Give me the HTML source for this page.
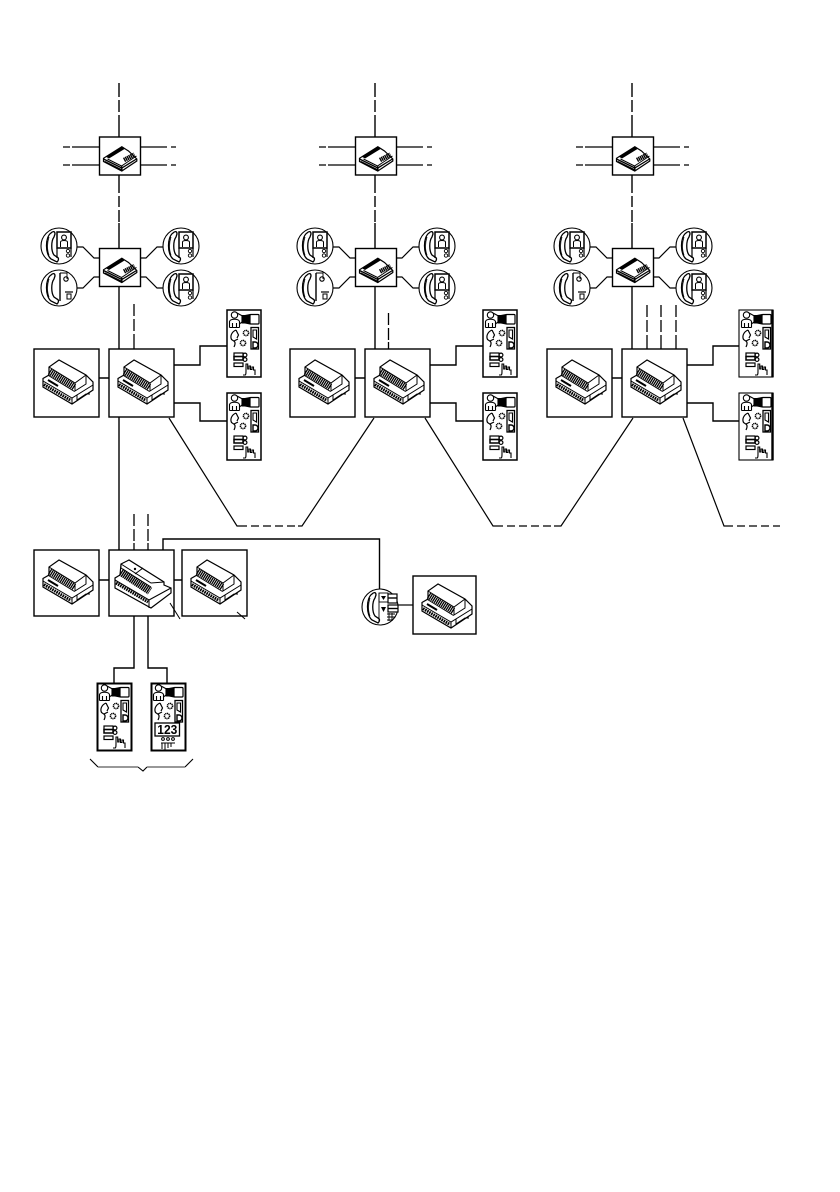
<!DOCTYPE html>
<html><head><meta charset="utf-8"><style>
html,body{margin:0;padding:0;background:#fff}
svg{display:block}
</style></head><body>
<svg xmlns="http://www.w3.org/2000/svg" width="840" height="1192" viewBox="0 0 840 1192">
<defs>
<g id="mod">
 <path d="M25 11 L15 18 V26 L9 29.500 V38 L38 55 L59 41 V33 L52 26 Z" fill="#fff" stroke="#000" stroke-width="1.200"/>
 <path d="M15 18 L41 34 L52 26 M41 34 V42 L52 35 V26" fill="none" stroke="#000" stroke-width="1"/>
 <path d="M15.500 22.500 L40.500 38" stroke="#000" stroke-width="6.500" stroke-dasharray="1.300 .7" fill="none"/>
 <path d="M9 32 L38 49 L59 36 M14.500 26.500 L40.500 42.500" fill="none" stroke="#000" stroke-width="1"/>
 <path d="M10 35.500 L37 51.500" stroke="#000" stroke-width="3" stroke-dasharray="1.600 .8" fill="none"/>
 <path d="M38 49 V55 M43 46 V51 L52 45 H56" fill="none" stroke="#000" stroke-width="1"/>
 <path d="M14 31 L24 37" stroke="#000" stroke-width="2" fill="none"/>
</g>
<g id="box">
 <rect x="0" y="0" width="65" height="68" fill="#fff" stroke="#000" stroke-width="1.400"/>
 <use href="#mod"/>
</g>
<g id="small">
 <rect x="0" y="0" width="41" height="38" fill="#fff" stroke="#000" stroke-width="1.400"/>
 <path d="M22.300 9.700 L4 21.300 V24.500 L22.300 34 L37.300 24 V22 L29 14 Z" fill="#fff" stroke="#000" stroke-width="1.200"/>
 <path d="M6 19.500 L22.300 10 L25 12 L9.500 21.500 Z" fill="#000"/>
 <path d="M8 22 L22 29 L37 19" fill="none" stroke="#000" stroke-width="1"/>
 <path d="M24.500 23 L35 17.500" stroke="#000" stroke-width="4.500" stroke-dasharray="1.400 .5" fill="none"/>
 <path d="M4 22 L22.300 31 L37 22" fill="none" stroke="#000" stroke-width="1.300"/>
 <path d="M5 24.500 L22.300 33 V29.500" fill="none" stroke="#000" stroke-width="1.500"/>
</g>
<g id="handset" fill="none" stroke="#000" stroke-width="1.200">
 <circle r="18" fill="#fff" stroke-width="1.100"/>
 <path d="M-8 -13 C-14 -9 -14 8 -8 13 L-2 16 C0 14 0 12 -2 11 L-5 9 C-8 5 -8 -5 -5 -9 L-4 -12 C-4 -15 -6 -15 -8 -13Z" stroke-width="1.300"/>
 <path d="M-10 -9 C-12 -3 -12 4 -10 9" stroke-width=".8"/>
</g>
<g id="phoneV">
 <use href="#handset"/>
 <rect x="-2" y="-14" width="14" height="16" fill="#fff" stroke="#000" stroke-width="1.500"/>
 <path d="M-2 2 V12 M12 2 V11" stroke="#000" stroke-width="1.200"/>
 <path d="M1.500 1 V-4 C2 -6 8 -6 8.500 -4 V1" fill="none" stroke="#000" stroke-width="1"/>
 <circle cx="5" cy="-8.500" r="2.400" fill="none" stroke="#000" stroke-width="1.100"/>
 <circle cx="9" cy="5" r="1.700" fill="none" stroke="#000" stroke-width=".9"/>
 <circle cx="9" cy="9.500" r="1.700" fill="none" stroke="#000" stroke-width=".9"/>
</g>
<g id="phoneA">
 <use href="#handset"/>
 <path d="M1 -15 V13" stroke="#000" stroke-width="1.400"/>
 <path d="M1 -15 H8 V-9" fill="none" stroke="#000" stroke-width=".9"/>
 <circle cx="7" cy="-9" r="2.200" fill="none" stroke="#000" stroke-width="1.100"/>
 <path d="M6 4 H14" stroke="#000" stroke-width="1.200"/>
 <rect x="8" y="6" width="4" height="5" fill="none" stroke="#000" stroke-width="1"/>
</g>
<g id="phoneK">
 <use href="#handset"/>
 <rect x="-1" y="-14" width="9" height="9" fill="#fff" stroke="#000" stroke-width=".9"/>
 <path d="M1 -11 H6 L3.500 -7 Z M1 0 H6 L3.500 5 Z" fill="#000"/>
 <rect x="8" y="-13" width="9" height="9" fill="#fff" stroke="#000" stroke-width="1.200"/>
 <path d="M8 -9 H17" stroke="#000" stroke-width="1.400"/>
 <rect x="8" y="-2" width="10" height="7" fill="#fff" stroke="#000" stroke-width="1.200"/>
 <path d="M8 1.500 H18" stroke="#000" stroke-width="1.400"/>
 <path d="M-1 -14 V15" stroke="#000" stroke-width=".9"/>
 <path d="M7 7 H15 M7 10 H15 M7 13 H13 M9 6 V14 M12 6 V14" stroke="#000" stroke-width=".9"/>
</g>
<g id="pTop" fill="none" stroke="#000" stroke-width="1.100">
 <circle cx="7.500" cy="5" r="3.200"/>
 <path d="M2.500 17.500 V11.500 C3.500 8.500 11.500 8.500 12.500 11.500 V17.500 M2.500 17.500 H12.500 M5.500 13 V17.500 M9.500 13 V17.500"/>
 <path d="M10 3 L15.500 6 M12.500 14 L15.500 11.500"/>
 <path d="M15 5.500 H18 L23 4.500 V14 L18 13 H15 Z" fill="#000"/>
 <rect x="23" y="4.500" width="9" height="9.500" rx="1" fill="#fff" stroke-width="1.200"/>
 <path d="M9 20 C4.500 22 3 26 4.500 29.500 L7.500 31.500 C8.500 33 8 35 7 37 M9 20 L11.500 25 L10 28 M7 31 L11 29" stroke-width="1.200"/>
 <circle cx="19" cy="23" r="2.600" stroke-dasharray="1.200 .5" stroke-width="1.500"/>
 <circle cx="16" cy="33" r="2.600" stroke-dasharray="1.200 .5" stroke-width="1.500"/>
 <rect x="24" y="17.500" width="7.500" height="21.500" stroke-width="1.300"/>
 <path d="M26 20 V27 L29.500 29 V20 Z"/>
 <path d="M26 32 H28 A3 3 0 0 1 28 38 H26 Z" stroke-width="1.400"/>
</g>
<g id="pBtn" fill="none" stroke="#000" stroke-width="1.200">
 <rect x="7" y="43" width="9" height="3.500"/>
 <rect x="7" y="46.500" width="9" height="3.500" stroke-width="1.500"/>
 <rect x="7" y="53" width="9" height="3.500"/>
 <circle cx="18" cy="45" r="1.900"/>
 <circle cx="18" cy="49.500" r="1.900"/>
 <path d="M16 65 H18 C19 65 19 63 19 60 V54 H20.700 V59 H22 V56 H23.500 V59.500 H25 V57 H26.500 V60 H28 V65" stroke-width="1.100"/>
</g>
<g id="panel">
 <rect x="0" y="0" width="34" height="67" fill="#fff" stroke="#000" stroke-width="1.500"/>
 <use href="#pTop"/><use href="#pBtn"/>
</g>
<g id="panelR">
 <rect x="0" y="0" width="34" height="67" fill="#fff" stroke="#000" stroke-width="1.100"/>
 <path d="M33.500 0 V67" stroke="#000" stroke-width="2.400"/>
 <use href="#pTop"/><use href="#pBtn"/>
</g>
<g id="upper">
 <path d="M119 83 V97 M119 100 V112 M119 115 V137 M119 175 V193 M119 196 V207 M119 210 V222 M119 223 V248" fill="none" stroke="#000" stroke-width="1.400"/>
 <path d="M63 147 H70 M72 147 H99 M63 165 H70 M72 165 H99 M141 147 H167 M171 147 H176 M141 165 H167 M171 165 H176" fill="none" stroke="#000" stroke-width="1.300"/>
 <use href="#small" x="99.500" y="137"/>
 <use href="#small" x="99.500" y="248.500"/>
 <path d="M77 247 H83 L94 258 H99 M77 288 H83 L94 277 H99 M141 258 H146 L157 247 H163 M141 277 H146 L157 288 H163" fill="none" stroke="#000" stroke-width="1.200"/>
 <use href="#phoneV" x="59" y="246"/>
 <use href="#phoneA" x="59" y="288"/>
 <use href="#phoneV" x="181" y="246"/>
 <use href="#phoneV" x="181" y="288"/>
 <path d="M119 287 V349" stroke="#000" stroke-width="1.400" fill="none"/>
 <path d="M99 378 H109 M174 365 H200 V346 H227 M174 403 H200 V421 H227" fill="none" stroke="#000" stroke-width="1.400"/>
 <use href="#box" x="34" y="349"/>
 <use href="#box" x="109" y="349"/>
</g>
</defs>

<use href="#upper"/>
<path d="M134 304 V316 M134 319 V331 M134 334 V349" stroke="#000" stroke-width="1.300" fill="none"/>
<use href="#panel" x="227" y="310"/>
<use href="#panel" x="227" y="393"/>

<use href="#upper" x="256"/>
<path d="M388.500 313 V325 M388.500 328 V340 M388.500 342 V349" stroke="#000" stroke-width="1.300" fill="none"/>
<use href="#panel" x="483" y="310"/>
<use href="#panel" x="483" y="393"/>

<use href="#upper" x="513"/>
<path d="M647 305 V317 M647 320 V332 M647 335 V349 M661 305 V317 M661 320 V332 M661 335 V349 M676 305 V317 M676 320 V332 M676 335 V349" stroke="#000" stroke-width="1.300" fill="none"/>
<use href="#panelR" x="739" y="310"/>
<use href="#panelR" x="739" y="393"/>

<path d="M119 417 V550" stroke="#000" stroke-width="1.400" fill="none"/>
<path d="M134 514 V526 M134 529 V541 M134 543 V550 M148 514 V526 M148 529 V541 M148 543 V550" stroke="#000" stroke-width="1.300" fill="none"/>
<g fill="none" stroke="#000" stroke-width="1.200">
 <path d="M169 418 L237 526 H247"/>
 <path d="M251 526 H259 M263 526 H271 M275 526 H283 M287 526 H295"/>
 <path d="M298 526 H302 L374 418"/>
 <path d="M425 418 L493 526 H503"/>
 <path d="M507 526 H515 M519 526 H527 M531 526 H539 M543 526 H551"/>
 <path d="M554 526 H561 L633 418"/>
 <path d="M683 418 L724 526 H733"/>
 <path d="M737 526 H745 M749 526 H757 M761 526 H769 M773 526 H780"/>
</g>

<path d="M99 580 H109 M174 580 H182 M163 550 V539 H379.500 V590" fill="none" stroke="#000" stroke-width="1.400"/>
<rect x="109" y="550" width="65" height="66" fill="#fff" stroke="#000" stroke-width="1.400"/>
<g transform="translate(109 550)">
 <path d="M12 14 L20 10 L55 32 V35 L62 38 V43 L42 58 L6 38 V28 L11 25 Z" fill="#fff" stroke="#000" stroke-width="1.200"/>
 <path d="M12 14 L42 33 L55 32 M12 14 V18 L42 37" fill="none" stroke="#000" stroke-width="1"/>
 <path d="M12 22 L41 41" stroke="#000" stroke-width="8" stroke-dasharray="1.400 .6" fill="none"/>
 <path d="M6 30 L40 50 L62 38" fill="none" stroke="#000" stroke-width="1.100"/>
 <path d="M7 33 L39 52" stroke="#000" stroke-width="3" stroke-dasharray="1.600 .8" fill="none"/>
 <path d="M40 50 V58 M34 18 L26 24" fill="none" stroke="#000" stroke-width="1"/>
 <circle cx="26" cy="19" r="1.200" fill="#000"/>
</g>
<rect x="182" y="550" width="65" height="66" fill="#fff" stroke="#000" stroke-width="1.400"/>
<use href="#mod" x="182" y="549"/>
<rect x="34" y="550" width="65" height="66" fill="#fff" stroke="#000" stroke-width="1.400"/>
<use href="#mod" x="34" y="549"/>
<path d="M170 603 L180 619 M237 612 L245 619" stroke="#000" stroke-width="1" fill="none"/>

<path d="M398 605 H413" stroke="#000" stroke-width="1.200"/>
<use href="#phoneK" x="380" y="607"/>
<rect x="413" y="576" width="63" height="58" fill="#fff" stroke="#000" stroke-width="1.400"/>
<use href="#mod" x="413" y="573"/>

<path d="M134 616 V668 H114 V683 M148 616 V668 H167 V683" fill="none" stroke="#000" stroke-width="1.400"/>
<rect x="97.500" y="683.500" width="34" height="67" fill="#fff" stroke="#000" stroke-width="2"/>
<use href="#pTop" x="97" y="683"/><use href="#pBtn" x="97" y="683"/>
<rect x="151.500" y="683.500" width="34" height="67" fill="#fff" stroke="#000" stroke-width="2"/>
<use href="#pTop" x="151" y="683"/>
<rect x="155" y="723" width="24.500" height="13" fill="#fff" stroke="#000" stroke-width="1.300"/>
<text x="167.300" y="734" font-family="'Liberation Sans',sans-serif" font-weight="700" font-size="13" text-anchor="middle" textLength="20" lengthAdjust="spacingAndGlyphs">123</text>
<g fill="none" stroke="#000" stroke-width="1">
 <circle cx="163" cy="739" r="1.400"/><circle cx="168" cy="739" r="1.400"/><circle cx="173" cy="739" r="1.400"/>
 <path d="M161 743 H175 M162 743 V749 M165 743 V750 M168 743 V748 M171 743 V747 M162 750 H168"/>
</g>

<path d="M90 759 L98 767 M138 767 L143 771 L147 767 M185 767 L193 759" fill="none" stroke="#000" stroke-width="1.100"/>
<path d="M98 767 H138 M147 767 H185" fill="none" stroke="#777" stroke-width="1.400"/>
</svg>
</body></html>
